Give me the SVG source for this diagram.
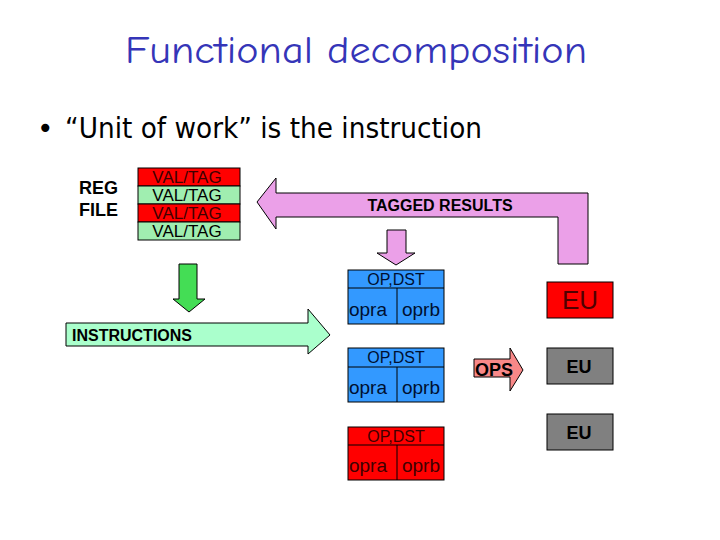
<svg xmlns="http://www.w3.org/2000/svg" width="720" height="540" viewBox="0 0 720 540">
<style>
.t{font-family:"Liberation Sans",Arial,sans-serif}
.b{font-weight:bold}
.ln{stroke:#000;stroke-width:1}
.blue{fill:#3399FF}
.red{fill:#FF0000}
.gray{fill:#808080}
</style>
<rect width="720" height="540" fill="#fff"/>
<g id="title">
<text x="125" y="63" font-family="'Comic Neue','Comic Sans MS','DejaVu Sans',sans-serif" font-size="38" fill="#3535B8" textLength="462" lengthAdjust="spacingAndGlyphs">Functional decomposition</text>
</g>
<g id="bullet">
<text x="37" y="138" font-family="'Comic Sans MS','DejaVu Sans',sans-serif" font-size="28" fill="#000">•</text>
<text x="65" y="138" font-family="'Comic Sans MS','DejaVu Sans',sans-serif" font-size="28" fill="#000" textLength="417" lengthAdjust="spacingAndGlyphs">“Unit of work” is the instruction</text>
</g>
<g id="regfile">
<text x="79" y="194" class="t b" font-size="18">REG</text>
<text x="79" y="216" class="t b" font-size="18">FILE</text>
<rect x="138" y="168" width="102" height="18" class="red ln"/>
<rect x="138" y="186" width="102" height="18" fill="#A0EEB0" class="ln"/>
<rect x="138" y="204" width="102" height="18" class="red ln"/>
<rect x="138" y="222" width="102" height="18" fill="#A0EEB0" class="ln"/>
<g class="t" font-size="17" text-anchor="middle">
<text x="187" y="183" fill="#400000">VAL/TAG</text>
<text x="187" y="201" fill="#000">VAL/TAG</text>
<text x="187" y="219" fill="#400000">VAL/TAG</text>
<text x="187" y="237" fill="#000">VAL/TAG</text>
</g>
</g>
<g id="connectors">
<g id="tagged-results">
<polygon points="257,202 276,178 276,193 588,193 588,264 558,264 558,217 276,217 276,229" fill="#EBA0E8" class="ln"/>
<text x="440" y="211" class="t b" font-size="16" text-anchor="middle">TAGGED RESULTS</text>
</g>
<polygon id="down-pink" points="387,230 406,230 406,253 415,253 396,265 377,253 387,253" fill="#EBA0E8" class="ln"/>
<polygon id="down-green" points="179,264 197,264 197,299 205,299 189,312 173,299 179,299" fill="#44DD55" class="ln"/>
<g id="instructions">
<polygon points="66,323 308,323 308,309 330,335 308,354 308,346 66,346" fill="#AAFFCC" class="ln"/>
<text x="72" y="341" class="t b" font-size="16">INSTRUCTIONS</text>
</g>
<g id="ops">
<polygon points="474,359 510,359 510,348 523,370 510,391 510,377 474,377" fill="#F88888" class="ln"/>
<text x="475" y="376" class="t b" font-size="18">OPS</text>
</g>
</g>
<g id="rs1">
<rect x="348" y="270" width="96" height="54" class="blue ln"/>
<line x1="348" y1="288" x2="444" y2="288" class="ln"/>
<line x1="397" y1="288" x2="397" y2="324" class="ln"/>
<text x="396" y="285" class="t" font-size="16" text-anchor="middle" fill="#001030">OP,DST</text>
<text x="368" y="316" class="t" font-size="19" text-anchor="middle" fill="#001030">opra</text>
<text x="421" y="316" class="t" font-size="19" text-anchor="middle" fill="#001030">oprb</text>
</g>
<g id="rs2">
<rect x="348" y="348" width="96" height="54" class="blue ln"/>
<line x1="348" y1="367" x2="444" y2="367" class="ln"/>
<line x1="397" y1="367" x2="397" y2="402" class="ln"/>
<text x="396" y="363" class="t" font-size="16" text-anchor="middle" fill="#001030">OP,DST</text>
<text x="368" y="394" class="t" font-size="19" text-anchor="middle" fill="#001030">opra</text>
<text x="421" y="394" class="t" font-size="19" text-anchor="middle" fill="#001030">oprb</text>
</g>
<g id="rs3">
<rect x="348" y="427" width="96" height="53" class="red ln"/>
<line x1="348" y1="445" x2="444" y2="445" class="ln"/>
<line x1="397" y1="445" x2="397" y2="480" class="ln"/>
<text x="396" y="442" class="t" font-size="16" text-anchor="middle" fill="#400000">OP,DST</text>
<text x="368" y="472" class="t" font-size="19" text-anchor="middle" fill="#400000">opra</text>
<text x="421" y="472" class="t" font-size="19" text-anchor="middle" fill="#400000">oprb</text>
</g>
<g id="eu1">
<rect x="547" y="282" width="66" height="36" class="red ln"/>
<text x="580" y="309" class="t" font-size="26" text-anchor="middle" fill="#500000">EU</text>
</g>
<g id="eu2">
<rect x="547" y="348" width="66" height="36" class="gray ln"/>
<text x="579" y="373" class="t b" font-size="18" text-anchor="middle" fill="#000">EU</text>
</g>
<g id="eu3">
<rect x="547" y="414" width="66" height="36" class="gray ln"/>
<text x="579" y="439" class="t b" font-size="18" text-anchor="middle" fill="#000">EU</text>
</g>
</svg>
